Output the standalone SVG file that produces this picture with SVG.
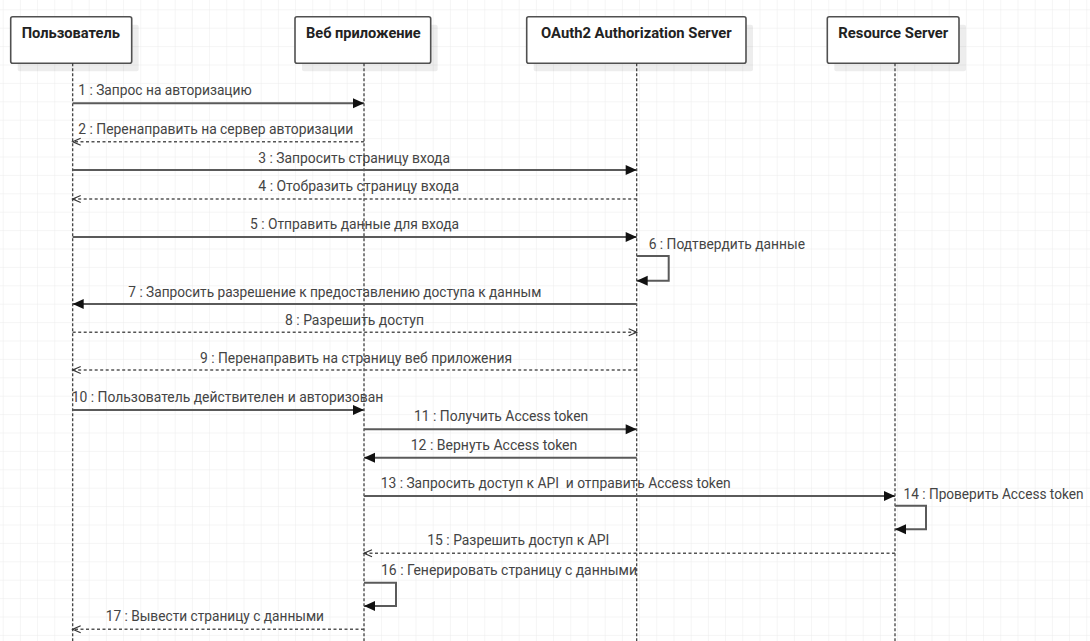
<svg xmlns="http://www.w3.org/2000/svg" width="1090" height="641" viewBox="0 0 1090 641">
<style>
.box{fill:#fff;stroke:#505050;stroke-width:1.6}
.shadow{fill:#000;fill-opacity:0.07}
.title{font-family:Roboto,"Liberation Sans",sans-serif;font-size:14.5px;font-weight:bold;fill:#222}
.life{stroke:#333;stroke-width:1.2;stroke-dasharray:3 2;fill:none}
.msg{font-family:Roboto,"Liberation Sans",sans-serif;font-size:15px;fill:#444}
.sync{stroke:#5a5a5a;stroke-width:2;fill:none;marker-end:url(#filled)}
.ret{stroke:#555;stroke-width:1.5;stroke-dasharray:3 2.5;fill:none;marker-end:url(#open)}
</style>
<defs>
<pattern id="grid" x="2.7" y="9.3" width="17.2" height="18.4" patternUnits="userSpaceOnUse">
<path d="M0,0 H17.2 M0,0 V18.4" stroke="#ebebeb" stroke-width="1" fill="none"/>
</pattern>
<marker id="filled" markerUnits="userSpaceOnUse" markerWidth="12" markerHeight="11" refX="11" refY="5" orient="auto" overflow="visible">
<path d="M0,0 L11,5 L0,10 z" fill="#111"/>
</marker>
<marker id="open" markerUnits="userSpaceOnUse" markerWidth="10" markerHeight="9" refX="8" refY="3.5" orient="auto" overflow="visible">
<path d="M0,0 L8,3.5 L0,7" fill="none" stroke="#333" stroke-width="1.2"/>
</marker>
</defs>
<rect width="1090" height="641" fill="#fff"/>
<rect width="1090" height="641" fill="url(#grid)"/>

<g id="user">
<rect class="shadow" x="17.7" y="24.7" width="121" height="46.6" rx="2"/>
<rect class="box" x="10.7" y="16.7" width="121" height="46.6" rx="2"/>
<text class="title" x="21.7" y="37.7" textLength="98.3" lengthAdjust="spacingAndGlyphs">Пользователь</text>
<line class="life" x1="72.7" y1="63.3" x2="72.7" y2="641"/>
</g>
<g id="webapp">
<rect class="shadow" x="302" y="24.7" width="135.7" height="46.6" rx="2"/>
<rect class="box" x="295" y="16.7" width="135.7" height="46.6" rx="2"/>
<text class="title" x="306" y="37.7" textLength="114.7" lengthAdjust="spacingAndGlyphs">Веб приложение</text>
<line class="life" x1="364" y1="63.3" x2="364" y2="641"/>
</g>
<g id="oauth">
<rect class="shadow" x="533.7" y="24.7" width="219.3" height="46.6" rx="2"/>
<rect class="box" x="526.7" y="16.7" width="219.3" height="46.6" rx="2"/>
<text class="title" x="541" y="37.7" textLength="190.7" lengthAdjust="spacingAndGlyphs">OAuth2 Authorization Server</text>
<line class="life" x1="636.7" y1="63.3" x2="636.7" y2="641"/>
</g>
<g id="resource">
<rect class="shadow" x="834.3" y="24.7" width="131.7" height="46.6" rx="2"/>
<rect class="box" x="827.3" y="16.7" width="131.7" height="46.6" rx="2"/>
<text class="title" x="838.3" y="37.7" textLength="110" lengthAdjust="spacingAndGlyphs">Resource Server</text>
<line class="life" x1="895" y1="63.3" x2="895" y2="641"/>
</g>

<g id="connectors">
<line class="sync" x1="72.7" y1="103.3" x2="364" y2="103.3"/>
<text class="msg" x="78.3" y="95" textLength="173.4" lengthAdjust="spacingAndGlyphs">1 : Запрос на авторизацию</text>

<line class="ret" x1="364" y1="141.7" x2="72.7" y2="141.7"/>
<text class="msg" x="78.3" y="133.5" textLength="275" lengthAdjust="spacingAndGlyphs">2 : Перенаправить на сервер авторизации</text>

<line class="sync" x1="72.7" y1="170" x2="636.7" y2="170"/>
<text class="msg" x="258.3" y="162.5" textLength="191.7" lengthAdjust="spacingAndGlyphs">3 : Запросить страницу входа</text>

<line class="ret" x1="636.7" y1="199" x2="72.7" y2="199"/>
<text class="msg" x="258.3" y="191" textLength="200.7" lengthAdjust="spacingAndGlyphs">4 : Отобразить страницу входа</text>

<line class="sync" x1="72.7" y1="237" x2="636.7" y2="237"/>
<text class="msg" x="250" y="229" textLength="209" lengthAdjust="spacingAndGlyphs">5 : Отправить данные для входа</text>

<path class="sync" d="M636.7,256 H668.7 V280.7 H636.7"/>
<text class="msg" x="648.7" y="249.3" textLength="156.3" lengthAdjust="spacingAndGlyphs">6 : Подтвердить данные</text>

<line class="sync" x1="636.7" y1="304" x2="72.7" y2="304"/>
<text class="msg" x="128.3" y="296.5" textLength="413" lengthAdjust="spacingAndGlyphs">7 : Запросить разрешение к предоставлению доступа к данным</text>

<line class="ret" x1="72.7" y1="332.3" x2="636.7" y2="332.3"/>
<text class="msg" x="285" y="325" textLength="139" lengthAdjust="spacingAndGlyphs">8 : Разрешить доступ</text>

<line class="ret" x1="636.7" y1="370" x2="72.7" y2="370"/>
<text class="msg" x="200" y="362.5" textLength="312" lengthAdjust="spacingAndGlyphs">9 : Перенаправить на страницу веб приложения</text>

<line class="sync" x1="72.7" y1="410" x2="364" y2="410"/>
<text class="msg" x="71.7" y="402" textLength="311.5" lengthAdjust="spacingAndGlyphs">10 : Пользователь действителен и авторизован</text>

<line class="sync" x1="364" y1="429.3" x2="636.7" y2="429.3"/>
<text class="msg" x="414" y="421" textLength="174.3" lengthAdjust="spacingAndGlyphs">11 : Получить Access token</text>

<line class="sync" x1="636.7" y1="457.7" x2="364" y2="457.7"/>
<text class="msg" x="410.7" y="449.5" textLength="166.6" lengthAdjust="spacingAndGlyphs">12 : Вернуть Access token</text>

<line class="sync" x1="364" y1="496" x2="895" y2="496"/>
<text class="msg" x="380.7" y="487.5" textLength="350" lengthAdjust="spacingAndGlyphs" style="white-space:pre">13 : Запросить доступ к API  и отправить Access token</text>

<path class="sync" d="M895,505.7 H926 V529.3 H895"/>
<text class="msg" x="903.5" y="498.5" textLength="180" lengthAdjust="spacingAndGlyphs" style="font-size:14px">14 : Проверить Access token</text>

<line class="ret" x1="895" y1="553.3" x2="364" y2="553.3"/>
<text class="msg" x="427.3" y="545" textLength="182" lengthAdjust="spacingAndGlyphs">15 : Разрешить доступ к API</text>

<path class="sync" d="M364,582.7 H396 V606 H364"/>
<text class="msg" x="381" y="575" textLength="256" lengthAdjust="spacingAndGlyphs">16 : Генерировать страницу с данными</text>

<line class="ret" x1="364" y1="629.3" x2="72.7" y2="629.3"/>
<text class="msg" x="105.7" y="621" textLength="218.3" lengthAdjust="spacingAndGlyphs">17 : Вывести страницу с данными</text>
</g>
</svg>
